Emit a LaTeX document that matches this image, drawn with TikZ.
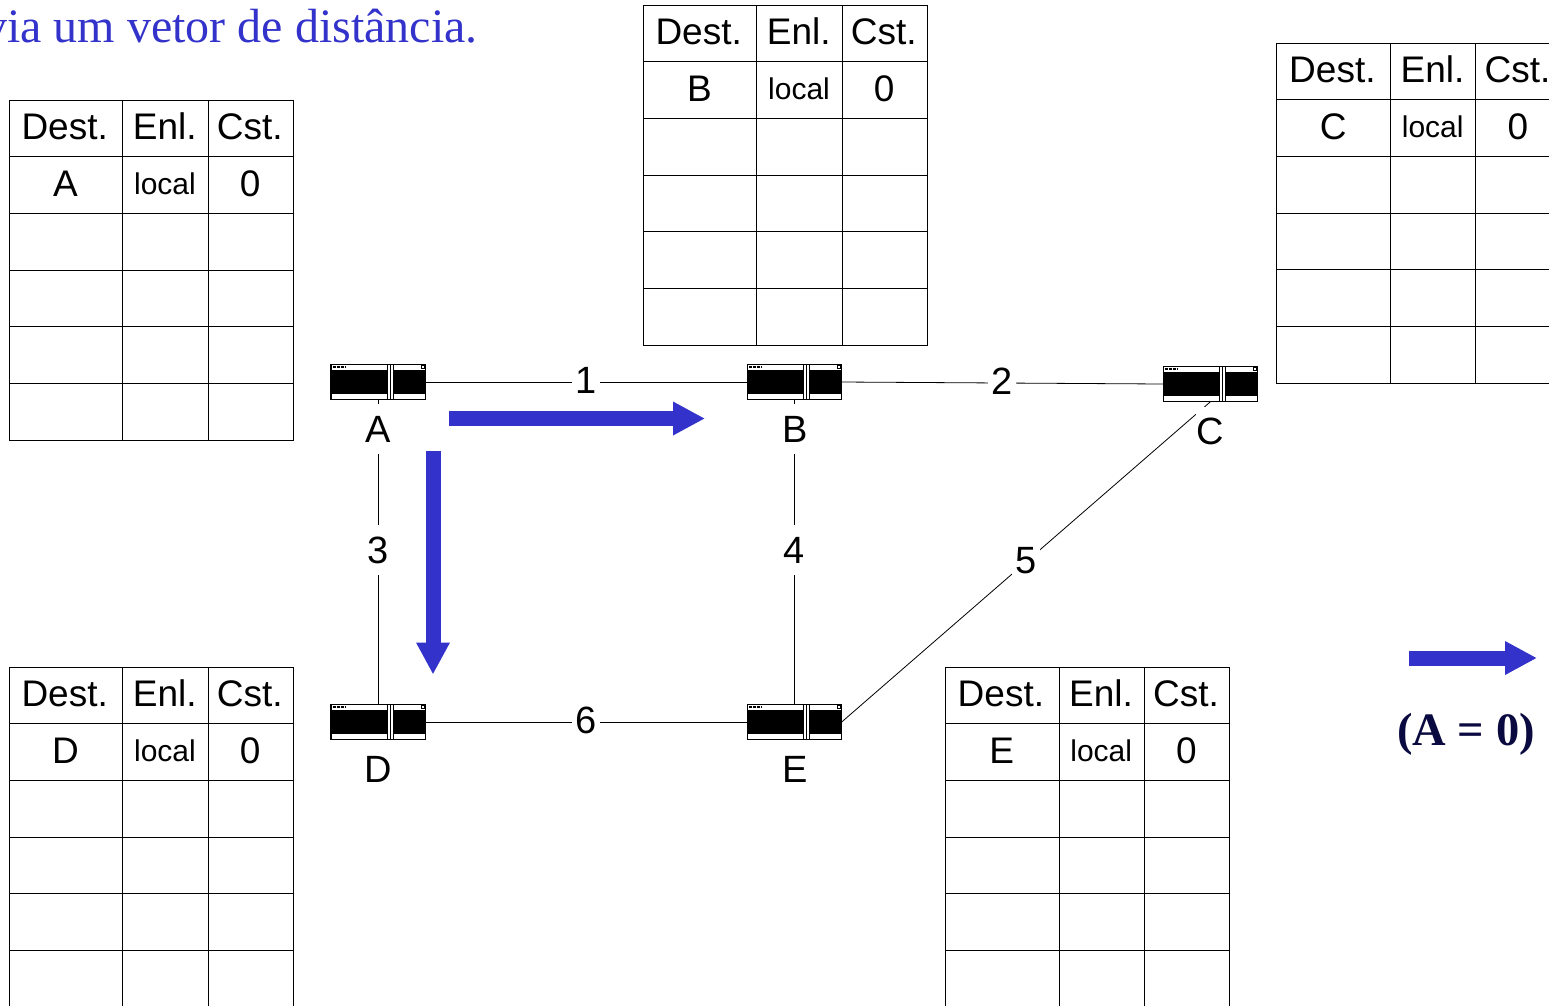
\documentclass[tikz,border=0pt]{standalone}
\usepackage{fontspec}
\setmainfont{Liberation Sans}
\newfontfamily\timesf{Liberation Serif}
\usetikzlibrary{arrows.meta}
\definecolor{arrowblue}{HTML}{3333CC}
\definecolor{navytext}{HTML}{0A0A40}
\tikzset{
  tablebox/.style={draw=black,line width=0.9pt,minimum width=284pt,minimum height=340pt,inner sep=0pt,outer sep=0pt,anchor=north west},
  gridline/.style={draw=black,line width=0.9pt},
  headtext/.style={font=\fontsize{37}{40}\selectfont,inner sep=0pt,anchor=base},
  localtext/.style={font=\fontsize{30}{32}\selectfont,inner sep=0pt,anchor=base},
  routerbox/.style={draw=black,fill=white,line width=1.2pt,minimum width=94.5pt,minimum height=35.5pt,inner sep=0pt,outer sep=0pt},
  linkline/.style={draw=black,line width=0.8pt},
  linklabel/.style={fill=white,font=\fontsize{38}{40}\selectfont,inner sep=0pt,minimum width=28pt,minimum height=50pt,midway,yshift=1.6pt},
  routerlabel/.style={fill=white,font=\fontsize{38}{40}\selectfont,inner sep=0pt,minimum width=30pt,minimum height=50pt},
  bluearrow/.style={draw=arrowblue,line width=15pt,-{Triangle[length=32pt,width=31.5pt,fill=arrowblue]}}
}
\newcommand{\rtable}[4]{%
  \node[tablebox] (t#1) at (#2,#3) {};
  \foreach \dx in {113.9,199} {\draw[gridline] (#2+\dx,#3) -- (#2+\dx,#3+340);}
  \foreach \dy in {56.7,113.4,170.1,226.8,283.5} {\draw[gridline] (#2,#3+\dy) -- (#2+284,#3+\dy);}
  \node[headtext] (t#1h1) at (#2+55.7,#3+39) {Dest.};
  \node[headtext] (t#1h2) at (#2+155.8,#3+39) {Enl.};
  \node[headtext] (t#1h3) at (#2+240.8,#3+39) {Cst.};
  \node[headtext] (t#1d) at (#2+56.5,#3+96) {#4};
  \node[localtext] (t#1l) at (#2+156,#3+94) {local};
  \node[headtext] (t#1c) at (#2+241.2,#3+96) {0};
}
\newcommand{\rdetail}[1]{%
  \begin{scope}[shift={(#1.center)}]
    \fill[black] (-47.2,-12) rectangle (47.2,12);
    \fill[white] (9,-17.4) rectangle (15.5,17.4);
    \draw[black,line width=1.3pt] (12.2,-17.7) -- (12.2,17.7);
    \draw[black,line width=1.1pt] (9,-17.7) -- (9,17.7);
    \draw[black,line width=1.1pt] (15.5,-17.7) -- (15.5,17.7);
    \draw[black,line width=2.2pt,dash pattern=on 3pt off 1pt] (-45.5,-15) -- (-32,-15);
    \draw[black,line width=0.8pt] (43,-16.5) rectangle (46,-13.5);
  \end{scope}
}
\begin{document}
\begin{tikzpicture}[x=1pt,y=-1pt]
\clip (0,0) rectangle (1549,1005);
\fill[white] (0,0) rectangle (1549,1005);
\node[anchor=base east,inner sep=0pt,text=arrowblue,font=\timesf\fontsize{48}{50}\selectfont] (title) at (478,42) {via um vetor de distância.};
\rtable{A}{9}{100}{A}
\rtable{B}{643}{5}{B}
\rtable{C}{1276.7}{43}{C}
\rtable{D}{9}{667}{D}
\rtable{E}{945.2}{667}{E}
\node[routerbox] (A) at (378.2,382) {};
\node[routerbox] (B) at (794.4,382) {};
\node[routerbox] (C) at (1210.4,384) {};
\node[routerbox] (D) at (378.2,722) {};
\node[routerbox] (E) at (794.4,722) {};
\rdetail{A}\rdetail{B}\rdetail{C}\rdetail{D}\rdetail{E}
\draw[linkline] (A.east) -- node[linklabel] {1} (B.west);
\draw[linkline] (B.east) -- node[linklabel] {2} (C.west);
\draw[linkline] (A.south) -- node[linklabel] {3} (D.north);
\draw[linkline] (B.south) -- node[linklabel] {4} (E.north);
\draw[linkline] (E.east) -- node[linklabel,minimum height=36pt] {5} (C.south);
\draw[linkline] (D.east) -- node[linklabel] {6} (E.west);
\node[routerlabel] (la) at (378,429) {A};
\node[routerlabel] (lb) at (795,429) {B};
\node[routerlabel] (lc) at (1210.5,431.5) {C};
\node[routerlabel] (ld) at (378,769) {D};
\node[routerlabel] (le) at (795,769) {E};
\coordinate (s1) at (449,418.5); \coordinate (e1) at (705,418.5);
\coordinate (s2) at (433,451); \coordinate (e2) at (433,674.5);
\coordinate (s3) at (1409,658); \coordinate (e3) at (1537,658);
\draw[bluearrow] (s1) -- (e1);
\draw[bluearrow] (s2) -- (e2);
\draw[bluearrow] (s3) -- (e3);
\node[inner sep=0pt,text=navytext,font=\timesf\bfseries\fontsize{46.5}{48}\selectfont] (eq) at (1466,734.5) {(A = 0)};
\end{tikzpicture}
\end{document}
